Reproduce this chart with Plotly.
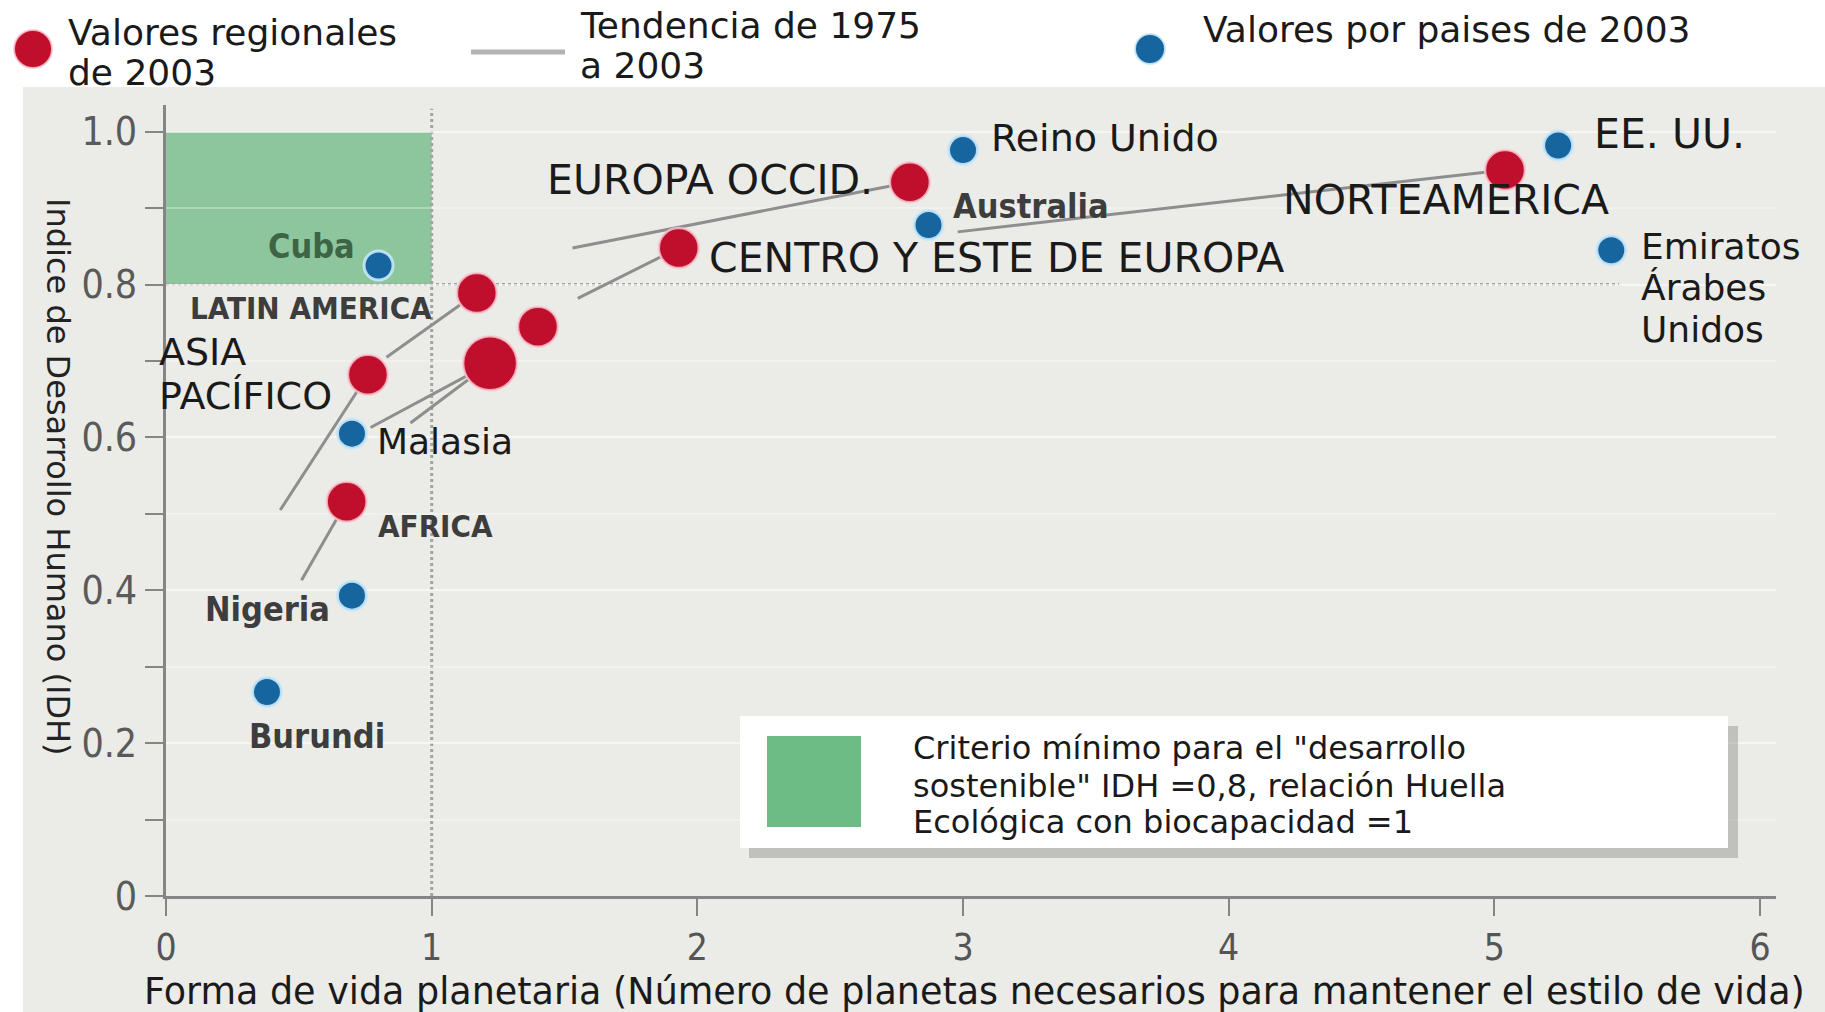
import plotly.graph_objects as go

# ---------------- data ----------------
region_names = ["LATIN AMERICA", "ASIA PACÍFICO", "AFRICA", "CENTRO Y ESTE DE EUROPA",
                "EUROPA OCCID.", "NORTEAMERICA", "ORIENTE MEDIO Y ASIA CENTRAL", "MUNDO"]
region_x = [1.17, 0.76, 0.68, 1.93, 2.80, 5.04, 1.22, 1.40]
region_y = [0.789, 0.682, 0.516, 0.848, 0.934, 0.950, 0.697, 0.745]

country_names = ["Cuba", "Malasia", "Nigeria", "Burundi", "Reino Unido", "Australia",
                 "EE. UU.", "Emiratos Árabes Unidos"]
country_x = [0.80, 0.70, 0.70, 0.38, 3.00, 2.87, 5.24, 5.44]
country_y = [0.825, 0.605, 0.393, 0.267, 0.976, 0.878, 0.982, 0.845]

trend_region = ["ASIA PACÍFICO", "LATIN AMERICA", "AFRICA", "ORIENTE MEDIO Y ASIA CENTRAL",
                "ORIENTE MEDIO Y ASIA CENTRAL", "CENTRO Y ESTE DE EUROPA", "EUROPA OCCID.",
                "NORTEAMERICA"]
trend_x_1975 = [0.43, 0.83, 0.51, 0.77, 0.92, 1.55, 1.53, 2.98]
trend_y_1975 = [0.505, 0.705, 0.413, 0.613, 0.619, 0.782, 0.848, 0.869]

x_tick_vals = [0, 1, 2, 3, 4, 5, 6]
x_tick_text = ["0", "1", "2", "3", "4", "5", "6"]
y_tick_vals = [0, 0.2, 0.4, 0.6, 0.8, 1.0]
y_tick_text = ["0", "0.2", "0.4", "0.6", "0.8", "1.0"]

idh_threshold = 0.8
planet_threshold = 1
idh_max = 1.0

legend_texts = {
    "regional": ["Valores regionales", "de 2003"],
    "trend": ["Tendencia de 1975", "a 2003"],
    "country": ["Valores por paises de 2003"],
}
criterion_text = ["Criterio mínimo para el \"desarrollo",
                  "sostenible\" IDH =0,8, relación Huella",
                  "Ecológica con biocapacidad =1"]
x_title = "Forma de vida planetaria (Número de planetas necesarios para mantener el estilo de vida)"
y_title = "Indice de Desarrollo Humano (IDH)"

# ---------------- styles / layout ----------------
W, H = 1825, 1012
ML, MR, MT, MB = 166, 49, 105, 116
PW, PH = W - ML - MR, H - MT - MB
X_RANGE = [0, 6.06]
Y_RANGE = [0, 1.035]

RED = "#bf0f2c"
BLUE = "#17659f"
GREEN_BOX = "#8dc59c"
GREEN_SWATCH = "#6dbb85"
PANEL = "#ebebe7"
AXIS = "#858585"
ARIAL = "DejaVu Sans, Liberation Sans, Arial, sans-serif"
NARROW = "DejaVu Sans Condensed, Liberation Sans Narrow, Arial Narrow, sans-serif"


def fx(px):
    return (px - ML) / PW


def fy(py):
    return (H - MB - py) / PH


region_size = {n: 40 for n in region_names}
region_size["ORIENTE MEDIO Y ASIA CENTRAL"] = 54

# label style: name -> list of (text, xanchor, xshift, yshift, font kind)
region_labels = {
    "LATIN AMERICA": [("LATIN AMERICA", "right", -43, -15, "narrow_caps")],
    "ASIA PACÍFICO": [("ASIA", "left", -211, 23, "arial_caps2"),
                      ("PACÍFICO", "left", -211, -21, "arial_caps2")],
    "AFRICA": [("AFRICA", "left", 29, -24, "narrow_caps")],
    "CENTRO Y ESTE DE EUROPA": [("CENTRO Y ESTE DE EUROPA", "left", 28, -10, "arial_caps")],
    "EUROPA OCCID.": [("EUROPA OCCID.", "right", -35, 2, "arial_caps")],
    "NORTEAMERICA": [("NORTEAMERICA", "center", -59, -30, "arial_caps")],
}
country_labels = {
    "Cuba": [("Cuba", "right", -22, 19, "narrow_green")],
    "Malasia": [("Malasia", "left", 23, -8, "arial")],
    "Nigeria": [("Nigeria", "right", -20, -13, "narrow")],
    "Burundi": [("Burundi", "center", 50, -44, "narrow")],
    "Reino Unido": [("Reino Unido", "left", 26, 12, "arial_wide")],
    "Australia": [("Australia", "left", 23, 19, "narrow")],
    "EE. UU.": [("EE. UU.", "left", 34, 12, "arial_caps")],
    "Emiratos Árabes Unidos": [("Emiratos", "left", 28, 4, "arial"),
                               ("Árabes", "left", 28, -37, "arial"),
                               ("Unidos", "left", 28, -79, "arial")],
}
fonts = {
    "arial": dict(family=ARIAL, size=36, color="#1a1a1a"),
    "arial_wide": dict(family=ARIAL, size=38, color="#1a1a1a"),
    "arial_caps": dict(family=ARIAL, size=41, color="#1a1a1a"),
    "arial_caps2": dict(family=ARIAL, size=38, color="#1a1a1a"),
    "narrow": dict(family=NARROW, size=34, color="#3d3d3d", weight="bold"),
    "narrow_caps": dict(family=NARROW, size=31, color="#3d3d3d", weight="bold"),
    "narrow_green": dict(family=NARROW, size=34, color="#3c6445", weight="bold"),
}

fig = go.Figure()

# trend lines 1975 -> 2003
tx, ty = [], []
for name, x0, y0 in zip(trend_region, trend_x_1975, trend_y_1975):
    i = region_names.index(name)
    tx += [x0, region_x[i], None]
    ty += [y0, region_y[i], None]
fig.add_trace(go.Scatter(x=tx, y=ty, mode="lines", line=dict(color="#8e8e8e", width=3),
                         hoverinfo="skip", showlegend=False))

# regional points
fig.add_trace(go.Scatter(
    x=region_x, y=region_y, mode="markers", text=region_names, hoverinfo="text",
    marker=dict(color=RED, opacity=1, size=[region_size[n] for n in region_names],
                line=dict(color="rgba(250,200,210,0.8)", width=2.5)),
    showlegend=False))

# country points
fig.add_trace(go.Scatter(
    x=country_x, y=country_y, mode="markers", text=country_names, hoverinfo="text",
    marker=dict(color=BLUE, opacity=1, size=29,
                line=dict(color="rgba(200,232,250,0.9)", width=3)),
    showlegend=False))

annotations = []
for names, xs, ys, labels in [(region_names, region_x, region_y, region_labels),
                              (country_names, country_x, country_y, country_labels)]:
    for n, x, y in zip(names, xs, ys):
        for text, xa, xs_, ys_, fk in labels.get(n, []):
            annotations.append(dict(x=x, y=y, xref="x", yref="y", text=text, showarrow=False,
                                    xanchor=xa, yanchor="middle", xshift=xs_, yshift=ys_,
                                    font=fonts[fk]))

shapes = []
# grey panel
shapes.append(dict(type="rect", xref="paper", yref="paper", x0=fx(23), x1=fx(W + 20),
                   y0=fy(H + 20), y1=fy(87), fillcolor=PANEL, line=dict(width=0), layer="below"))
# sustainable development zone
shapes.append(dict(type="rect", xref="x", yref="y", x0=0, x1=planet_threshold,
                   y0=idh_threshold, y1=idh_max, fillcolor=GREEN_BOX, line=dict(width=0),
                   layer="below"))
# dotted reference lines
shapes.append(dict(type="line", xref="x", yref="y", x0=planet_threshold, x1=planet_threshold,
                   y0=0, y1=1.03, line=dict(color="#a3a3a3", width=3, dash="dot"), layer="below"))
shapes.append(dict(type="line", xref="x", yref="y", x0=0, x1=5.47, y0=idh_threshold,
                   y1=idh_threshold, line=dict(color="#a3a3a3", width=3, dash="dot"),
                   layer="below"))

# criterion legend box
shapes.append(dict(type="rect", xref="paper", yref="paper", x0=fx(749), x1=fx(1738),
                   y0=fy(858), y1=fy(726), fillcolor="rgba(140,140,140,0.45)",
                   line=dict(width=0)))
shapes.append(dict(type="rect", xref="paper", yref="paper", x0=fx(740), x1=fx(1728),
                   y0=fy(848), y1=fy(716), fillcolor="white", line=dict(width=0)))
shapes.append(dict(type="rect", xref="paper", yref="paper", x0=fx(767), x1=fx(861),
                   y0=fy(827), y1=fy(736), fillcolor=GREEN_SWATCH, line=dict(width=0)))
for text, cy in zip(criterion_text, [748, 786, 822]):
    annotations.append(dict(x=fx(911), y=fy(cy), xref="paper", yref="paper", text=text,
                            showarrow=False, xanchor="left", yanchor="middle",
                            font=dict(family=ARIAL, size=32, color="#1a1a1a")))

# top legend
def circle(cx, cy, r, color, halo):
    return dict(type="circle", xref="paper", yref="paper", xsizemode="pixel",
                ysizemode="pixel", xanchor=fx(cx), yanchor=fy(cy), x0=-r, x1=r, y0=-r, y1=r,
                fillcolor=color, line=dict(color=halo, width=2))


shapes.append(circle(33, 49, 19, RED, "rgba(250,200,210,0.8)"))
shapes.append(dict(type="line", xref="paper", yref="paper", x0=fx(471), x1=fx(565),
                   y0=fy(52), y1=fy(52), line=dict(color="#b3b3b3", width=5)))
shapes.append(circle(1150, 49, 15, BLUE, "rgba(200,232,250,0.9)"))
for text, cy in zip(legend_texts["regional"], [32, 73]):
    annotations.append(dict(x=fx(66), y=fy(cy), xref="paper", yref="paper", text=text,
                            showarrow=False, xanchor="left", yanchor="middle",
                            font=dict(family=ARIAL, size=36, color="#1a1a1a")))
for text, cy in zip(legend_texts["trend"], [25, 66]):
    annotations.append(dict(x=fx(578), y=fy(cy), xref="paper", yref="paper", text=text,
                            showarrow=False, xanchor="left", yanchor="middle",
                            font=dict(family=ARIAL, size=36, color="#1a1a1a")))
for text, cy in zip(legend_texts["country"], [29]):
    annotations.append(dict(x=fx(1201), y=fy(cy), xref="paper", yref="paper", text=text,
                            showarrow=False, xanchor="left", yanchor="middle",
                            font=dict(family=ARIAL, size=36, color="#1a1a1a")))

# axis titles
annotations.append(dict(x=fx(974), y=fy(991), xref="paper", yref="paper", text=x_title,
                        showarrow=False, xanchor="center", yanchor="middle",
                        font=dict(family=ARIAL, size=36.5, color="#1a1a1a")))
annotations.append(dict(x=fx(58), y=fy(477), xref="paper", yref="paper", text=y_title,
                        showarrow=False, xanchor="center", yanchor="middle", textangle=90,
                        font=dict(family=ARIAL, size=32, color="#222222")))

fig.update_layout(
    width=W, height=H,
    margin=dict(l=ML, r=MR, t=MT, b=MB, pad=0),
    paper_bgcolor="white", plot_bgcolor="rgba(0,0,0,0)",
    showlegend=False,
    shapes=shapes, annotations=annotations,
    xaxis=dict(range=X_RANGE, tickvals=x_tick_vals, ticktext=x_tick_text,
               showgrid=False, zeroline=False, showline=True, linecolor=AXIS, linewidth=3,
               ticks="outside", ticklen=17, tickwidth=2, tickcolor=AXIS,
               ticklabelstandoff=0,
               tickfont=dict(family=NARROW, size=37, color="#555555")),
    yaxis=dict(range=Y_RANGE, tickvals=y_tick_vals, ticktext=y_tick_text,
               showgrid=True, gridcolor="rgba(255,255,255,0.4)", gridwidth=2,
               zeroline=False, showline=True, linecolor=AXIS, linewidth=3,
               ticks="outside", ticklen=18, tickwidth=2, tickcolor=AXIS,
               ticklabelstandoff=0,
               tickfont=dict(family=NARROW, size=39, color="#5a5a5a"),
               minor=dict(dtick=0.1, tick0=0, ticks="outside", ticklen=18, tickwidth=2,
                          tickcolor=AXIS, showgrid=True,
                          gridcolor="rgba(255,255,255,0.3)", gridwidth=2)),
)

fig.write_html("out.html", config={"displayModeBar": False},
               post_script="document.body.style.margin='0';document.body.style.overflow='hidden';")
